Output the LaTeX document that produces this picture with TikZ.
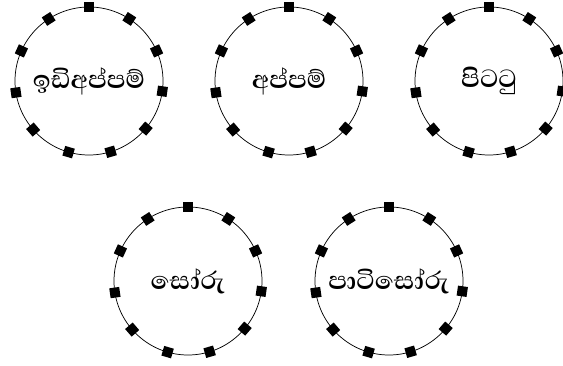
\documentclass[tikz,border=0pt]{standalone}
\usepackage{fontspec}
\newfontfamily\sinhalafont[Script=Sinhala]{Abhaya Libre}
\begin{document}
\begin{tikzpicture}[x=0.75pt,y=0.75pt,
  dish/.style={draw, circle, line width=0.55pt, minimum size=111pt, inner sep=0pt, outer sep=0pt,
    font=\sinhalafont\bfseries\fontsize{24}{28}\selectfont},
  bead/.style={fill=black, minimum size=7.5pt, inner sep=0pt}]
\useasboundingbox (0,0) rectangle (563,365);
% five plates, eleven beads round each
\foreach \nm/\cx/\cy/\txt in {idiappam/89/284/ඉඩිඅප්පම්, appam/289/284/අප්පම්, pittu/489/284/පිටටු,
    soru/188/84/සෝරු, paatisoru/389/84/පාටිසෝරු}{
  \node[dish] (\nm) at (\cx,\cy) {\txt};
  \foreach \k [evaluate=\k as \a using 90-\k*360/11] in {0,...,10}
    \node[bead, rotate=\a] (\nm-\k) at (\nm.\a) {};
}
\end{tikzpicture}
\end{document}
